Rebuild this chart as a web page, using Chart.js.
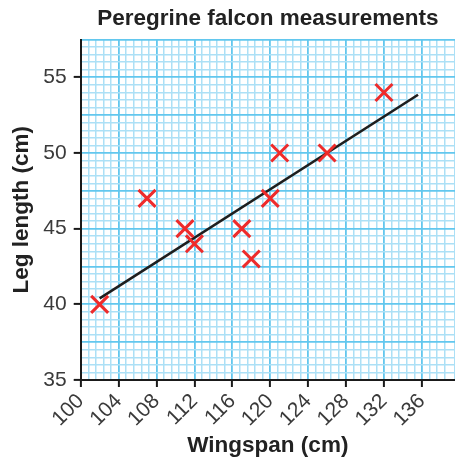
<!DOCTYPE html>
<html>
<head>
<meta charset="utf-8">
<script src="https://cdn.jsdelivr.net/npm/chart.js@4.4.1/dist/chart.umd.min.js"></script>
<style>
  html, body { margin: 0; padding: 0; background: #ffffff; }
  #wrap { width: 455px; height: 462px; position: relative; }
</style>
</head>
<body>
<div id="wrap"><canvas id="c" width="455" height="462"></canvas></div>
<script>
// ---- data ----
const chartTitle = "Peregrine falcon measurements";
const xTitle = "Wingspan (cm)";
const yTitle = "Leg length (cm)";
const wingspan = [102, 107, 111, 112, 117, 118, 120, 121, 126, 132];
const legLength = [40, 47, 45, 44, 45, 43, 47, 50, 50, 54];
const fitX = [102, 135.6];
const fitY = [40.4, 53.85];
const xTicksMajor = [100, 104, 108, 112, 116, 120, 124, 128, 132, 136];
const yTicksMajor = [35, 40, 45, 50, 55];

const isMult = (v, m) => Math.abs(v / m - Math.round(v / m)) < 1e-6;
const minorCol = '#ace0f6';
const majorCol = '#62c7ee';
const fontFam = '"Liberation Sans", Arial, Helvetica, sans-serif';

new Chart(document.getElementById('c'), {
  type: 'scatter',
  data: {
    datasets: [
      {
        type: 'scatter',
        data: wingspan.map((x, i) => ({ x: x, y: legLength[i] })),
        pointStyle: 'crossRot',
        pointRadius: 12,
        pointHoverRadius: 12,
        borderColor: '#ee2b2b',
        backgroundColor: '#ee2b2b',
        pointBorderWidth: 3,
        order: 1
      },
      {
        type: 'line',
        data: fitX.map((x, i) => ({ x: x, y: fitY[i] })),
        borderColor: '#1e1e1e',
        borderWidth: 2.6,
        pointRadius: 0,
        fill: false,
        order: 2
      }
    ]
  },
  options: {
    responsive: false,
    animation: false,
    layout: { padding: 0, autoPadding: false },
    plugins: {
      legend: { display: false },
      tooltip: { enabled: false },
      title: {
        display: true,
        text: chartTitle,
        fullSize: false,
        color: '#222',
        font: { family: fontFam, size: 22.5, weight: 'bold', lineHeight: 1.2 },
        padding: { top: 5, bottom: 7.5 }
      }
    },
    scales: {
      x: {
        type: 'linear',
        min: 100,
        max: 139.5,
        afterFit: s => { s.height = 82; s.paddingRight = 0; },
        border: { display: true, color: '#1a1a1a', width: 2 },
        grid: {
          color: ctx => isMult(ctx.tick.value, 4) ? majorCol : minorCol,
          lineWidth: ctx => isMult(ctx.tick.value, 4) ? 1.8 : 1.5,
          drawTicks: true,
          tickLength: 7,
          tickWidth: 2,
          tickColor: ctx => (ctx.tick && xTicksMajor.some(t => Math.abs(t - ctx.tick.value) < 1e-6)) ? '#1a1a1a' : 'rgba(0,0,0,0)'
        },
        ticks: {
          stepSize: 0.8,
          autoSkip: false,
          maxRotation: 45,
          minRotation: 45,
          padding: 2,
          color: '#3a3a3a',
          font: { family: fontFam, size: 21 },
          callback: v => xTicksMajor.some(t => Math.abs(t - v) < 1e-6) ? String(Math.round(v)) : ''
        },
        title: {
          display: true,
          text: xTitle,
          color: '#222',
          font: { family: fontFam, size: 22.5, weight: 'bold', lineHeight: 1.2 },
          padding: { top: 0, bottom: 3 }
        }
      },
      y: {
        type: 'linear',
        min: 35,
        max: 57.5,
        afterFit: s => { s.width = 80.7; },
        border: { display: true, color: '#1a1a1a', width: 2 },
        grid: {
          color: ctx => isMult(ctx.tick.value, 2.5) ? majorCol : minorCol,
          lineWidth: ctx => isMult(ctx.tick.value, 2.5) ? 1.8 : 1.5,
          drawTicks: true,
          tickLength: 7,
          tickWidth: 2,
          tickColor: ctx => (ctx.tick && yTicksMajor.some(t => Math.abs(t - ctx.tick.value) < 1e-6)) ? '#1a1a1a' : 'rgba(0,0,0,0)'
        },
        ticks: {
          stepSize: 0.5,
          autoSkip: false,
          padding: 7,
          color: '#3a3a3a',
          font: { family: fontFam, size: 21 },
          callback: v => yTicksMajor.some(t => Math.abs(t - v) < 1e-6) ? String(Math.round(v)) : ''
        },
        title: {
          display: true,
          text: yTitle,
          color: '#222',
          font: { family: fontFam, size: 22.5, weight: 'bold', lineHeight: 1.2 },
          padding: { top: 8, bottom: 0 }
        }
      }
    }
  }
});
</script>
</body>
</html>
